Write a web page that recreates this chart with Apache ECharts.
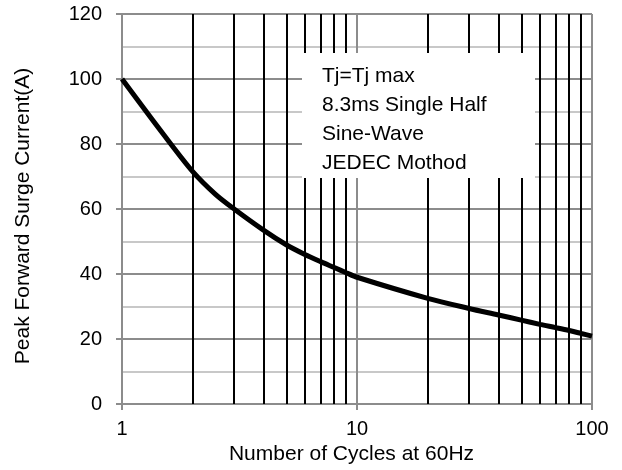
<!DOCTYPE html>
<html>
<head>
<meta charset="utf-8">
<script src="https://cdn.jsdelivr.net/npm/echarts@6/dist/echarts.min.js"></script>
<style>html,body{margin:0;padding:0;background:#fff;}#c{width:622px;height:470px;}</style>
</head>
<body>
<div id="c"></div>
<script>
var cycles = [1, 1.5, 2, 2.5, 3, 4, 5, 6, 7, 8, 9, 10, 20, 30, 40, 50, 60, 70, 80, 90, 100];
var current = [100, 83, 71.5, 64.5, 60, 53.5, 49, 46, 43.8, 42, 40.4, 39, 32.5, 29.4, 27.4, 25.8, 24.5, 23.5, 22.6, 21.7, 20.9];
var minorX = [2, 3, 4, 5, 6, 7, 8, 9, 20, 30, 40, 50, 60, 70, 80, 90];
var noteLines = ['Tj=Tj max', '8.3ms Single Half', 'Sine-Wave', 'JEDEC Mothod'];
var xName = 'Number of Cycles at 60Hz';
var yName = 'Peak Forward Surge Current(A)';

var font = 'Liberation Sans, Arial, sans-serif';
var chart = echarts.init(document.getElementById('c'), null, {renderer: 'canvas'});
chart.setOption({
  animation: false,
  grid: {left: 122, right: 30, top: 14, bottom: 66},
  xAxis: {
    type: 'log', logBase: 10, min: 1, max: 100,
    name: xName, nameLocation: 'middle', nameGap: 40,
    nameTextStyle: {fontFamily: font, fontSize: 21, color: '#000', padding: [0, 11, 0, 0]},
    axisLine: {show: true, lineStyle: {color: '#8c8c8c', width: 2}},
    axisTick: {show: true, length: 6, lineStyle: {color: '#8c8c8c', width: 2}},
    axisLabel: {fontFamily: font, fontSize: 20, color: '#000', margin: 15},
    splitLine: {show: true, lineStyle: {color: '#8c8c8c', width: 2}},
    minorTick: {show: false},
    minorSplitLine: {show: false}
  },
  yAxis: {
    type: 'value', min: 0, max: 120, interval: 20,
    name: yName, nameLocation: 'middle', nameGap: 88, nameRotate: 90,
    nameTextStyle: {fontFamily: font, fontSize: 21, color: '#000', padding: [0, 14, 0, 0]},
    axisLine: {show: true, lineStyle: {color: '#8c8c8c', width: 2}},
    axisTick: {show: true, length: 6, lineStyle: {color: '#8c8c8c', width: 2}},
    axisLabel: {fontFamily: font, fontSize: 20, color: '#000', margin: 20},
    splitLine: {show: true, lineStyle: {color: '#8c8c8c', width: 2}},
    minorTick: {show: false, splitNumber: 2},
    minorSplitLine: {show: true, lineStyle: {color: '#c8c8c8', width: 2}}
  },
  series: [
    {
      type: 'line', data: [], silent: true, z: 2,
      markLine: {
        silent: true, symbol: ['none', 'none'], animation: false,
        label: {show: false},
        lineStyle: {color: '#000', width: 2, type: 'solid'},
        emphasis: {disabled: true},
        data: minorX.map(function (v) { return {xAxis: v}; })
      }
    },
    {
      type: 'line', z: 5,
      data: cycles.map(function (c, i) { return [c, current[i]]; }),
      showSymbol: false, smooth: 0.3,
      lineStyle: {color: '#000', width: 5}
    }
  ],
  graphic: [
    {
      type: 'rect', z: 100,
      shape: {x: 302, y: 53, width: 233, height: 125},
      style: {fill: '#fff'}
    },
    {
      type: 'text', z: 101,
      x: 322, y: 62,
      style: {
        text: noteLines.join('\n'),
        fontFamily: font, fontSize: 21, lineHeight: 29,
        fill: '#000'
      }
    }
  ]
});
</script>
</body>
</html>
